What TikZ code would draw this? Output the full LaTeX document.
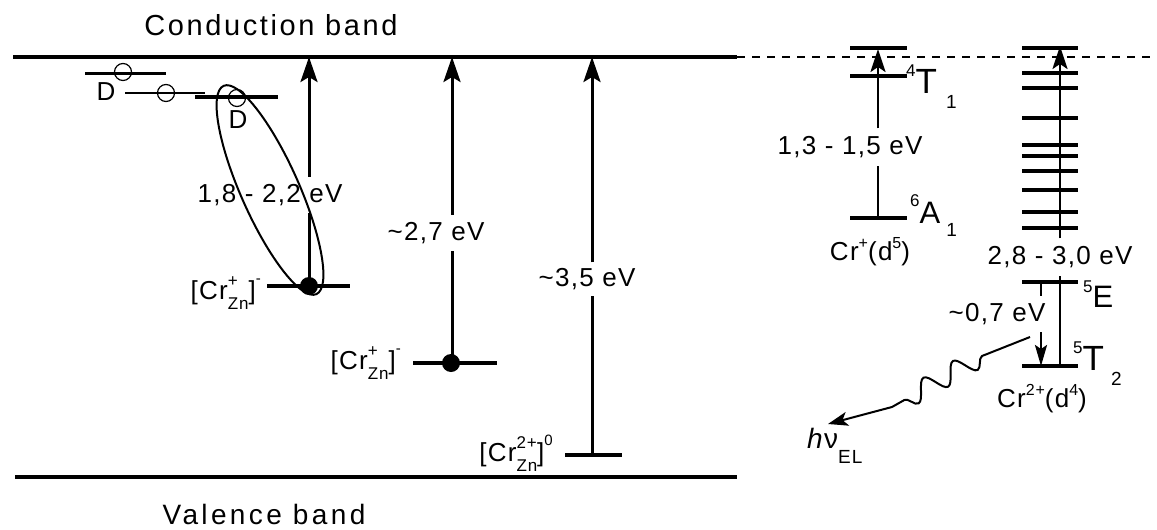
\documentclass[tikz,border=0pt]{standalone}
\usepackage{fontspec}
\setmainfont{Liberation Sans}[LetterSpace=5]
\usetikzlibrary{arrows.meta,decorations.pathmorphing}
\newcommand\fs[1]{\fontsize{#1}{#1}\selectfont}
\newcommand\SupSub[2]{\rlap{\raisebox{0.5em}{\fs{17}#1}}\raisebox{-0.42em}{\fs{17}#2}}
\newcommand\CrZn[2]{[Cr\SupSub{#1}{Zn}]\raisebox{0.6em}{\fs{15}#2}}
\begin{document}
\begin{tikzpicture}[x=1pt,y=-1pt,
  band/.style={line width=3.5pt},
  lvl/.style={line width=3.5pt},
  shaft/.style={line width=3pt},
  arr/.style={line width=3pt,-{Stealth[length=25pt,width=17pt,inset=5pt]}},
  rshaft/.style={line width=2.5pt},
  rarr/.style={line width=2.5pt,-{Stealth[length=23pt,width=15pt,inset=5pt]}},
  sarr/.style={line width=2.5pt,-{Stealth[length=21pt,width=12pt,inset=4pt]}},
  lbl/.style={inner sep=0pt,font=\fs{26}},
  gaplbl/.style={lbl,minimum height=36pt},
  hole/.style={draw,circle,line width=1.2pt,minimum size=17pt,inner sep=0pt},
  dot/.style={circle,fill=black,minimum size=18pt,inner sep=0pt},
  dashline/.style={line width=1.5pt,dash pattern=on 8pt off 7pt},
  wave/.style={line width=2pt,-{Stealth[length=20pt,width=14pt,inset=5pt]}}
]
\useasboundingbox (0,0) rectangle (1157,530);

% bands
\coordinate (cbL) at (13,57); \coordinate (cbR) at (737,57); \coordinate (cbE) at (1157,57);
\coordinate (vbL) at (15,477); \coordinate (vbR) at (737,477);
\draw[band] (cbL) -- (cbR);
\draw[dashline] (cbR) -- (cbE);
\draw[band] (vbL) -- (vbR);
\node[lbl,font=\fs{29}\addfontfeature{LetterSpace=9}] (cbt) at (271,25) {Conduction band};
\node[lbl,font=\fs{28}\addfontfeature{LetterSpace=12}] (vbt) at (264,514) {Valence band};

% donor levels
\coordinate (d1w) at (85,73); \coordinate (d1e) at (166,73);
\coordinate (d2w) at (125,93); \coordinate (d2e) at (205,93);
\coordinate (d3w) at (195,97); \coordinate (d3e) at (278,97);
\draw[line width=3pt] (d1w) -- (d1e);
\draw[line width=2.5pt] (d2w) -- (d2e);
\draw[lvl] (d3w) -- (d3e);
\node[hole] (h1) at (123,72) {};
\node[hole] (h2) at (166,93) {};
\node[hole] (h3) at (237,98) {};
\node[lbl,font=\fs{26}] (D1) at (106,92) {D};
\node[lbl,font=\fs{26}] (D2) at (238,120) {D};

% [Cr+Zn]- (left)
\coordinate (c1w) at (267,286); \coordinate (c1e) at (350,286);
\coordinate (c1) at (309,286); \coordinate (c1t) at (309,57);
\draw[lvl] (c1w) -- (c1e);
\node[gaplbl] (e1) at (270,195) {1,8 - 2,2 eV};
\draw[shaft] (c1) -- (c1 |- e1.south);
\draw[arr] (c1 |- e1.north) -- (c1t);
\node[dot] (dt1) at (c1) {};
\draw[line width=2pt,rotate around={114:(270,190)}] (270,190) ellipse [x radius=114pt, y radius=29pt];
\node[lbl,anchor=base east] (cr1) at (261,299) {\CrZn{+}{-}};

% [Cr+Zn]- (middle)
\coordinate (c2w) at (413,363); \coordinate (c2e) at (497,363);
\coordinate (c2) at (452,363); \coordinate (c2t) at (452,57);
\draw[lvl] (c2w) -- (c2e);
\node[gaplbl] (e2) at (436,233) {\textasciitilde2,7 eV};
\draw[shaft] (c2) -- (c2 |- e2.south);
\draw[arr] (c2 |- e2.north) -- (c2t);
\node[dot] (dt2) at (451,363) {};
\node[lbl,anchor=base east] (cr2) at (401,369) {\CrZn{+}{-}};

% [Cr2+Zn]0
\coordinate (c3w) at (565,455); \coordinate (c3e) at (622,455);
\coordinate (c3) at (592,455); \coordinate (c3t) at (592,57);
\draw[lvl] (c3w) -- (c3e);
\node[gaplbl,minimum height=33pt] (e3) at (587,279) {\textasciitilde3,5 eV};
\draw[shaft] (c3) -- (c3 |- e3.south);
\draw[arr] (c3 |- e3.north) -- (c3t);
\node[lbl,anchor=base east] (cr3) at (553,461) {\CrZn{2+}{0}};

% Cr+(d5)
\coordinate (t1aw) at (850,48); \coordinate (t1ae) at (907,48);
\coordinate (t1bw) at (850,76); \coordinate (t1be) at (907,76);
\coordinate (a1w) at (850,218); \coordinate (a1e) at (907,218);
\draw[lvl] (t1aw) -- (t1ae);
\draw[lvl] (t1bw) -- (t1be);
\draw[lvl] (a1w) -- (a1e);
\coordinate (q1) at (878,218); \coordinate (q1t) at (878,49);
\node[gaplbl,minimum height=37pt] (e4) at (850,147) {1,3 - 1,5 eV};
\draw[rshaft] (q1) -- (q1 |- e4.south);
\draw[rarr] (q1 |- e4.north) -- (q1t);
\node[lbl,anchor=base west] (T1) at (906,93) {\raisebox{17pt}{\fs{17}4}\fs{35}T\hspace{9pt}\raisebox{-15pt}{\fs{19}1}};
\node[lbl,anchor=base west] (A1) at (910,223) {\raisebox{17pt}{\fs{17}6}\fs{31}A\hspace{6pt}\raisebox{-13pt}{\fs{19}1}};
\node[lbl,anchor=base] (crd5) at (870,260) {Cr\raisebox{0.45em}{\fs{16}+}(d\raisebox{0.45em}{\fs{16}5})};

% Cr2+(d4) manifold
\foreach \yy [count=\i] in {48,73,88,118,145,156,171,190,212,228} {
  \coordinate (mw\i) at (1022,\yy); \coordinate (me\i) at (1078,\yy);
  \draw[lvl] (mw\i) -- (me\i);
}
\coordinate (Ew) at (1022,282); \coordinate (Ee) at (1078,282);
\coordinate (Tw) at (1022,366); \coordinate (Te) at (1078,366);
\draw[lvl] (Ew) -- (Ee);
\draw[lvl] (Tw) -- (Te);
\coordinate (q2) at (1060,366); \coordinate (q2t) at (1060,46);
\node[gaplbl,minimum height=37pt] (e5) at (1060,257) {2,8 - 3,0 eV};
\draw[rshaft] (q2) -- (q2 |- e5.south);
\draw[rarr] (q2 |- e5.north) -- (q2t);
\coordinate (q3) at (1041,282); \coordinate (q3b) at (1041,366);
\node[gaplbl] (e6) at (997,314) {\textasciitilde0,7 eV};
\draw[rshaft] (q3) -- ++(0,14) coordinate (q3d);
\draw[sarr] (q3 |- e6.south) -- (q3b);
\node[lbl,anchor=base west] (E5) at (1083,307) {\raisebox{15pt}{\fs{17}5}\fs{31}E};
\node[lbl,anchor=base west] (T5) at (1073,370) {\raisebox{17pt}{\fs{17}5}\fs{35}T\hspace{7pt}\raisebox{-15pt}{\fs{19}2}};
\node[lbl,anchor=base] (crd4) at (1042,407) {Cr\raisebox{0.45em}{\fs{16}2+}(d\raisebox{0.45em}{\fs{16}4})};

% emission
\coordinate (w0) at (1030,337); \coordinate (w1) at (982,356);
\coordinate (w2) at (892,407); \coordinate (w3) at (828,424);
\draw[wave] (w0) -- (w1) decorate[decoration={snake,amplitude=10pt,segment length=34pt}] {-- (w2)} -- (w3);
\node[lbl,anchor=base west] (hnu) at (807,448) {\fs{28}\textit{h}ν\raisebox{-15pt}{\fs{19}EL}};
\end{tikzpicture}
\end{document}
